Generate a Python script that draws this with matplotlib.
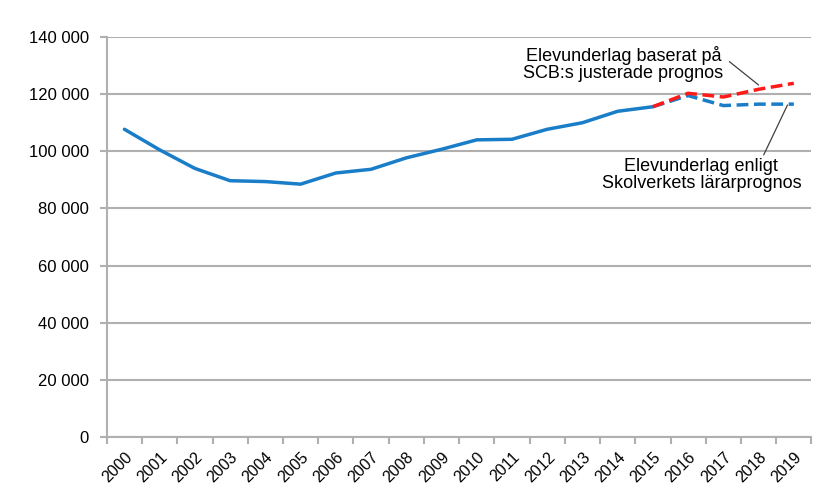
import matplotlib
matplotlib.use("Agg")
import matplotlib.pyplot as plt
import numpy as np

years = [str(y) for y in range(2000, 2020)]

# observed, 2000-2015
hist = [107700, 100500, 94000, 89700, 89400, 88500, 92400, 93700, 97700, 100700,
        104000, 104200, 107700, 110000, 114000, 115600]
# forecasts, 2015-2019
prog_scb = [115600, 120300, 119000, 121700, 123800]
prog_skolverket = [115600, 119500, 116000, 116500, 116500]

plt.rcParams['font.family'] = ['Liberation Sans', 'DejaVu Sans']

fig = plt.figure(figsize=(8.28, 5.0), dpi=100)
ax = fig.add_axes([0.129, 0.126, 0.851, 0.8])

blue = "#1a7dc8"
red = "#ff1a1a"
grid = "#b0b0b0"

x_hist = np.arange(len(hist))
x_prog = np.arange(len(hist) - 1, len(years))

ax.plot(x_hist, hist, color=blue, linewidth=2.5, solid_capstyle="round", zorder=3)
ax.plot(x_prog, prog_skolverket, color=blue, linewidth=2.5, linestyle=(0, (3.4, 1.6)), zorder=3)
ax.plot(x_prog, prog_scb, color=red, linewidth=2.5, linestyle=(0, (3.4, 1.6)), zorder=4)

ax.set_xlim(-0.5, len(years) - 0.5)
ax.set_ylim(0, 140000)
yt = np.arange(0, 140001, 20000)
ax.set_yticks(yt)
ax.set_yticklabels([f"{v:,}".replace(",", " ") for v in yt], fontsize=12)
ax.yaxis.grid(True, color=grid, linewidth=1.5)
ax.set_axisbelow(True)

ax.set_xticks(np.arange(len(years)))
ax.set_xticklabels(years, rotation=45, ha="right", va="top", rotation_mode="anchor", fontsize=11.5)
ax.set_xticks(np.arange(len(years) + 1) - 0.5, minor=True)
ax.tick_params(axis="x", which="major", length=0, pad=9)
ax.tick_params(axis="x", which="minor", length=5, color=grid, width=1.5, direction="out")
ax.tick_params(axis="y", length=5, color=grid, width=1.5, pad=8)

for s in ["top", "right"]:
    ax.spines[s].set_visible(False)
for s in ["left", "bottom"]:
    ax.spines[s].set_color(grid)
    ax.spines[s].set_linewidth(1.5)

ax.annotate("Elevunderlag baserat på\nSCB:s justerade prognos", xy=(18.0, 123200),
            xytext=(14.16, 130500), fontsize=13, ha="center", va="center",
            linespacing=1.0,
            arrowprops=dict(arrowstyle="-", color="#404040", lw=0.9, shrinkA=0,
                            shrinkB=0, relpos=(1.03, 0.57)))
ax.annotate("Elevunderlag enligt\nSkolverkets lärarprognos", xy=(18.82, 116200),
            xytext=(16.375, 91700), fontsize=13, ha="center", va="center",
            linespacing=1.05,
            arrowprops=dict(arrowstyle="-", color="#404040", lw=0.9, shrinkA=0,
                            shrinkB=0, relpos=(0.80, 0.93)))

fig.savefig("out.png", dpi=100)
